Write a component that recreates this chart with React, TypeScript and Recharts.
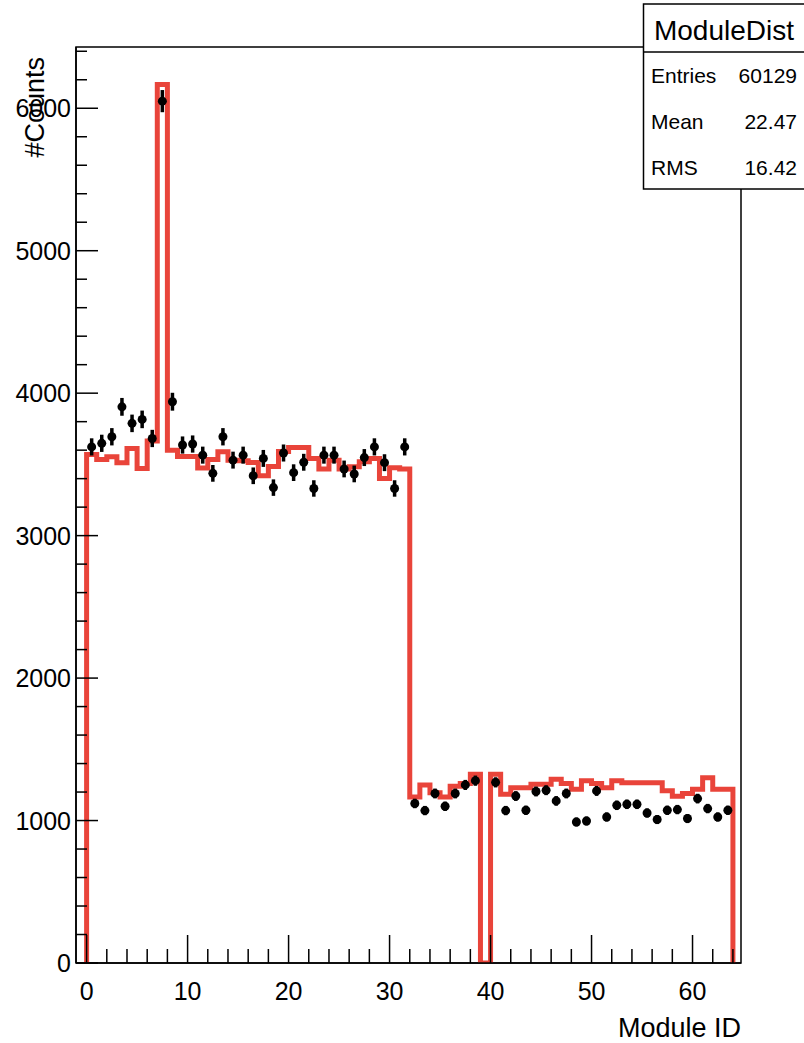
import React from "react";
import { ComposedChart, Line, Scatter, ErrorBar, XAxis, YAxis, ReferenceArea } from "recharts";

// Module IDs 0..63, one bin per module
const MODULE_IDS = Array.from({ length: 64 }, (_, i) => i);

// Red histogram (simulation), counts per module
const SIM_COUNTS = [
  3570, 3535, 3553, 3511, 3612, 3472, 3665, 6167, 3600, 3555,
  3555, 3475, 3535, 3588, 3530, 3525, 3514, 3420, 3485, 3590,
  3618, 3618, 3542, 3467, 3530, 3467, 3483, 3518, 3542, 3401,
  3476, 3467, 1165, 1250, 1195, 1165, 1240, 1260, 1325, 0,
  1325, 1185, 1230, 1230, 1255, 1255, 1290, 1260, 1220, 1280,
  1260, 1230, 1280, 1265, 1265, 1265, 1265, 1210, 1170, 1190,
  1220, 1300, 1220, 1220,
];

// Black points (data), counts per module; module 39 is empty
const DATA_COUNTS: (number | null)[] = [
  3623, 3648, 3694, 3904, 3788, 3816, 3682, 6050, 3940, 3636,
  3643, 3565, 3437, 3694, 3530, 3565, 3420, 3542, 3337, 3580,
  3442, 3515, 3331, 3565, 3565, 3468, 3433, 3548, 3623, 3512,
  3331, 3623, 1120, 1070, 1190, 1100, 1190, 1250, 1280, null,
  1268, 1070, 1172, 1072, 1204, 1213, 1138, 1190, 990, 997,
  1208, 1025, 1107, 1114, 1114, 1053, 1007, 1072, 1077, 1014,
  1154, 1084, 1025, 1072,
];

const X_MAJOR = [0, 10, 20, 30, 40, 50, 60];
const X_TICKS = Array.from({ length: 33 }, (_, i) => i * 2);
const Y_MAJOR = [0, 1000, 2000, 3000, 4000, 5000, 6000];
const Y_TICKS = Array.from({ length: 33 }, (_, i) => i * 200);

const STATS = [
  { label: "Entries", value: "60129" },
  { label: "Mean", value: "22.47" },
  { label: "RMS", value: "16.42" },
];

const X_DOMAIN: [number, number] = [-1.05, 64.8];
const Y_DOMAIN: [number, number] = [0, 6430];

const FONT = "'Liberation Sans', Arial, Helvetica, sans-serif";
const RED = "#e9443a";

// step outline: edges of every bin, closed down to zero at both ends
const histData = [
  { x: MODULE_IDS[0], y: 0 },
  ...MODULE_IDS.map((id) => ({ x: id, y: SIM_COUNTS[id] })),
  { x: MODULE_IDS.length, y: SIM_COUNTS[SIM_COUNTS.length - 1] },
  { x: MODULE_IDS.length, y: 0 },
];

const pointData = MODULE_IDS.filter((id) => DATA_COUNTS[id] != null).map((id) => ({
  x: id + 0.5,
  y: DATA_COUNTS[id] as number,
  err: Math.sqrt(DATA_COUNTS[id] as number),
}));

const XTick = (props: any) => {
  const { x, y, payload } = props;
  const major = X_MAJOR.includes(payload.value);
  return (
    <g>
      <line x1={x} x2={x} y1={y} y2={y - (major ? 28 : 14)} stroke="#000" strokeWidth={1.5} />
      {major && (
        <text x={x} y={y + 37} textAnchor="middle" fontSize={25} fill="#000" fontFamily={FONT}>
          {payload.value}
        </text>
      )}
    </g>
  );
};

const YTick = (props: any) => {
  const { x, y, payload } = props;
  const major = Y_MAJOR.includes(payload.value);
  return (
    <g>
      <line x1={x} x2={x + (major ? 22 : 11)} y1={y} y2={y} stroke="#000" strokeWidth={1.5} />
      {major && (
        <text x={x - 5} y={y + 9} textAnchor="end" fontSize={25} fill="#000" fontFamily={FONT}>
          {payload.value}
        </text>
      )}
    </g>
  );
};

const Marker = (props: any) => {
  const { cx, cy } = props;
  return <circle cx={cx} cy={cy} r={4.5} fill="#000" />;
};

export default function App() {
  return (
    <div style={{ position: "absolute", left: 0, top: 0, width: 804, height: 1043, background: "#fff", fontFamily: FONT }}>
      <ComposedChart width={804} height={1043} margin={{ top: 47, right: 63, bottom: 0, left: 0 }}>
        <XAxis
          dataKey="x"
          type="number"
          domain={X_DOMAIN}
          allowDataOverflow
          ticks={X_TICKS}
          interval={0}
          tickLine={false}
          tickSize={0}
          tickMargin={0}
          tick={<XTick />}
          axisLine={{ stroke: "#000", strokeWidth: 1.5 }}
          height={80}
        />
        <YAxis
          type="number"
          domain={Y_DOMAIN}
          allowDataOverflow
          ticks={Y_TICKS}
          interval={0}
          tickLine={false}
          tickSize={0}
          tickMargin={0}
          tick={<YTick />}
          axisLine={{ stroke: "#000", strokeWidth: 1.5 }}
          width={76}
        />
        <ReferenceArea x1={X_DOMAIN[0]} x2={X_DOMAIN[1]} y1={Y_DOMAIN[0]} y2={Y_DOMAIN[1]} fill="none" stroke="#000" strokeWidth={1.5} />
        <Line
          data={histData}
          dataKey="y"
          type="stepAfter"
          stroke={RED}
          strokeWidth={5}
          strokeLinejoin="miter"
          dot={false}
          activeDot={false}
          isAnimationActive={false}
        />
        <Scatter data={pointData} dataKey="y" shape={<Marker />} isAnimationActive={false}>
          <ErrorBar dataKey="err" direction="y" width={0} stroke="#000" strokeWidth={3.5} isAnimationActive={false} />
        </Scatter>
      </ComposedChart>

      <svg width={804} height={1043} style={{ position: "absolute", left: 0, top: 0, pointerEvents: "none" }}>
        <text x={44} y={57} transform="rotate(-90 44 57)" textAnchor="end" fontSize={27} fill="#000" fontFamily={FONT}>
          #Counts
        </text>
        <text x={741} y={1037} textAnchor="end" fontSize={27} fill="#000" fontFamily={FONT}>
          Module ID
        </text>
        <rect x={643.5} y={4} width={170} height={185} fill="#fff" stroke="#000" strokeWidth={1.5} />
        <line x1={643.5} x2={804} y1={52} y2={52} stroke="#000" strokeWidth={1.5} />
        <text x={724} y={40} textAnchor="middle" fontSize={28} fill="#000" fontFamily={FONT}>
          ModuleDist
        </text>
        {STATS.map((s, i) => (
          <g key={s.label}>
            <text x={651} y={83 + i * 46} fontSize={21} fill="#000" fontFamily={FONT}>
              {s.label}
            </text>
            <text x={797} y={83 + i * 46} textAnchor="end" fontSize={21} fill="#000" fontFamily={FONT}>
              {s.value}
            </text>
          </g>
        ))}
      </svg>
    </div>
  );
}
